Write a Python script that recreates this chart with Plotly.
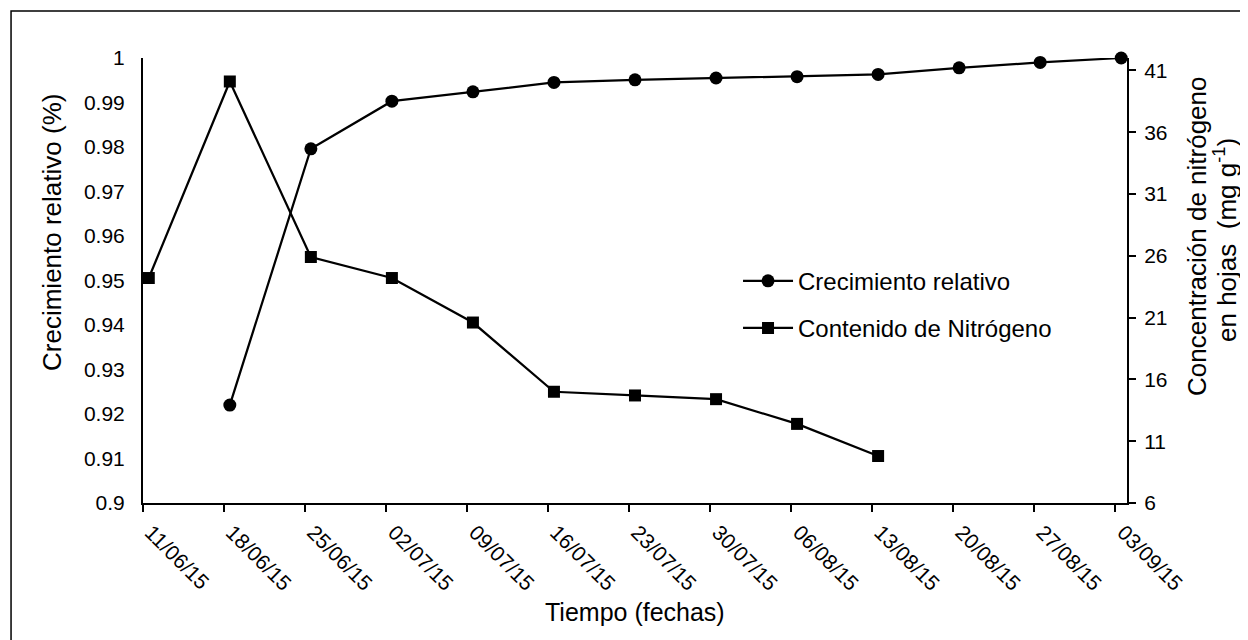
import plotly.graph_objects as go

# ---- data ----
dates = ["2015-06-11", "2015-06-18", "2015-06-25", "2015-07-02", "2015-07-09",
         "2015-07-16", "2015-07-23", "2015-07-30", "2015-08-06", "2015-08-13",
         "2015-08-20", "2015-08-27", "2015-09-03"]
date_labels = ["11/06/15", "18/06/15", "25/06/15", "02/07/15", "09/07/15",
               "16/07/15", "23/07/15", "30/07/15", "06/08/15", "13/08/15",
               "20/08/15", "27/08/15", "03/09/15"]

crec_dates = dates[1:]
crecimiento = [0.9220, 0.9796, 0.9903, 0.9924, 0.9945, 0.9951, 0.9955,
               0.9958, 0.9963, 0.9978, 0.9990, 1.0000]

nit_dates = dates[:10]
nitrogeno = [24.2, 40.1, 25.9, 24.2, 20.6, 15.0, 14.7, 14.4, 12.4, 9.8]

left_ticks = [0.90, 0.91, 0.92, 0.93, 0.94, 0.95, 0.96, 0.97, 0.98, 0.99, 1.00]
left_labels = ["0.9", "0.91", "0.92", "0.93", "0.94", "0.95", "0.96", "0.97",
               "0.98", "0.99", "1"]
right_ticks = [6, 11, 16, 21, 26, 31, 36, 41]

FONT = "Liberation Sans, Arial, sans-serif"

fig = go.Figure()
fig.add_trace(go.Scatter(
    x=crec_dates, y=crecimiento, name="Crecimiento relativo",
    mode="lines+markers",
    line=dict(color="black", width=2.25),
    marker=dict(symbol="circle", size=13, color="black"),
    xperiod=86400000, xperiodalignment="middle",
    legendgroup="a", cliponaxis=False))
fig.add_trace(go.Scatter(
    x=nit_dates, y=nitrogeno, name="Contenido de Nitrógeno",
    mode="lines+markers", yaxis="y2",
    line=dict(color="black", width=2.25),
    marker=dict(symbol="square", size=12, color="black"),
    xperiod=86400000, xperiodalignment="middle",
    legendgroup="b", cliponaxis=False))

fig.update_layout(
    width=1240, height=632, autosize=False,
    margin=dict(l=135, r=121, t=50, b=137, pad=0),
    paper_bgcolor="white", plot_bgcolor="white",
    font=dict(family=FONT, color="black", size=21),
    showlegend=True,
    legend=dict(x=0.6047, y=0.549, xanchor="left", yanchor="top",
                itemwidth=50,
                font=dict(size=24, family=FONT, color="black"),
                bgcolor="rgba(0,0,0,0)", tracegroupgap=13),
    xaxis=dict(type="date", range=["2015-06-11", "2015-09-04"],
               tickvals=dates, ticktext=date_labels, tickangle=45,
               ticks="outside", ticklen=7, tickwidth=1.5, tickcolor="black",
               ticklabelshift=8,
               showline=True, linewidth=2, linecolor="black",
               showgrid=False, zeroline=False,
               tickfont=dict(size=21, family=FONT, color="black")),
    yaxis=dict(range=[0.9, 1.0], tickvals=left_ticks, ticktext=left_labels,
               ticks="", showline=True, linewidth=2, linecolor="black",
               showgrid=False, zeroline=False, ticklabelstandoff=12,
               tickfont=dict(size=21, family=FONT, color="black")),
    yaxis2=dict(range=[6, 42], tickvals=right_ticks, overlaying="y",
                side="right", ticks="outside", ticklen=7, tickwidth=1.5,
                tickcolor="black", showline=True, linewidth=2,
                linecolor="black", showgrid=False, zeroline=False,
                ticklabelstandoff=4,
                tickfont=dict(size=21, family=FONT, color="black")),
    annotations=[
        dict(text="Crecimiento relativo (%)", xref="paper", yref="paper",
             x=-0.0925, y=0.609, textangle=-90, showarrow=False,
             xanchor="center", yanchor="middle",
             font=dict(size=26, family=FONT, color="black")),
        dict(text="Concentración de nitrógeno",
             xref="paper", yref="paper", x=1.0711, y=0.6, textangle=-90,
             showarrow=False, xanchor="center", yanchor="middle",
             font=dict(size=26, family=FONT, color="black")),
        dict(text="en hojas\u00a0 (mg g<sup>-1</sup>)",
             xref="paper", yref="paper", x=1.0996, y=0.591, textangle=-90,
             showarrow=False, xanchor="center", yanchor="middle",
             font=dict(size=26, family=FONT, color="black")),
        dict(text="Tiempo (fechas)", xref="paper", yref="paper",
             x=0.5, y=-0.245, showarrow=False, xanchor="center",
             yanchor="middle",
             font=dict(size=25, family=FONT, color="black")),
    ],
    shapes=[dict(type="rect", xref="paper", yref="paper",
                 x0=-0.1341, x1=1.1215, y0=-0.36, y1=1.1056,
                 line=dict(color="black", width=1.5),
                 fillcolor="rgba(0,0,0,0)", layer="below")],
)

fig.write_html("out.html")
